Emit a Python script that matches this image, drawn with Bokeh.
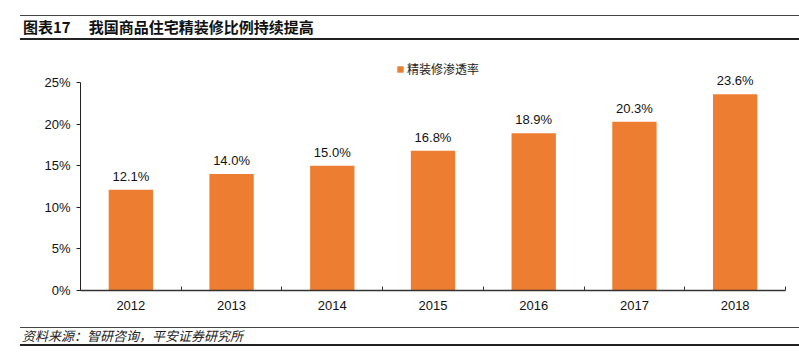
from bokeh.plotting import figure
from bokeh.models import (ColumnDataSource, FixedTicker, LabelSet, Legend, LegendItem,
                          Div, Range1d, PrintfTickFormatter)
from bokeh.core.properties import value
from bokeh.layouts import column
from bokeh.embed import file_html
from bokeh.resources import INLINE

years = ["2012", "2013", "2014", "2015", "2016", "2017", "2018"]
rates = [12.1, 14.0, 15.0, 16.8, 18.9, 20.3, 23.6]
rate_labels = ["12.1%", "14.0%", "15.0%", "16.8%", "18.9%", "20.3%", "23.6%"]
y_ticks = [0, 5, 10, 15, 20, 25]
series_name = "精装修渗透率"
title_head = "图表17"
title_body = "我国商品住宅精装修比例持续提高"
source_text = "资料来源：智研咨询，平安证券研究所"

pos = [i + 0.5 for i in range(len(years))]
src = ColumnDataSource(dict(x=pos, y=rates, lab=rate_labels))

FONT = "Liberation Sans"
CJK = "Noto Sans CJK SC"

p = figure(width=791, height=282, output_backend="svg", toolbar_location=None,
           x_range=Range1d(0, len(years)), y_range=Range1d(0, 27.65),
           min_border_left=80, min_border_right=6, min_border_top=20, min_border_bottom=32,
           margin=0)
p.outline_line_color = None
p.xgrid.grid_line_color = None
p.ygrid.grid_line_color = None

r = p.vbar(x="x", top="y", width=0.44, source=src, fill_color="#ED7D31", line_color=None)

labels = LabelSet(x="x", y="y", text="lab", source=src, text_align="center",
                  text_baseline="bottom", y_offset=6, text_font=value(FONT),
                  text_font_size="13px", text_color="#111111")
p.add_layout(labels)

xa = p.xaxis[0]
xa.ticker = FixedTicker(ticks=pos, minor_ticks=list(range(len(years) + 1)))
xa.major_label_overrides = {v: y for v, y in zip(pos, years)}
xa.major_tick_line_color = None
xa.minor_tick_in = 4
xa.minor_tick_out = 0
xa.minor_tick_line_color = "#333333"
xa.axis_line_color = "#333333"
xa.axis_line_width = 1.5
xa.major_label_standoff = 4
xa.major_label_text_font = FONT
xa.major_label_text_font_size = "13px"
xa.major_label_text_color = "#111111"

ya = p.yaxis[0]
ya.ticker = FixedTicker(ticks=y_ticks)
ya.bounds = (0, 25)
ya.formatter = PrintfTickFormatter(format="%d%%")
ya.major_tick_in = 0
ya.major_tick_out = 4
ya.minor_tick_line_color = None
ya.axis_line_color = "#222222"
ya.major_tick_line_color = "#222222"
ya.major_label_standoff = 6
ya.major_label_text_font = FONT
ya.major_label_text_font_size = "13px"
ya.major_label_text_color = "#111111"

legend = Legend(items=[LegendItem(label=series_name, renderers=[r])],
                location=(316, 213), orientation="horizontal",
                border_line_color=None, background_fill_alpha=0,
                glyph_width=8, glyph_height=8, label_height=14, label_standoff=3,
                padding=0, margin=0, spacing=0,
                label_text_font=CJK, label_text_font_size="12px", label_text_color="#222222")
p.add_layout(legend)

title_html = (
    '<div style="margin:15px 0 0 20px; width:779px; height:25px; box-sizing:border-box; '
    'border-top:1.5px solid #444; border-bottom:2px solid #222; '
    f'font-family:\'{CJK}\'; font-weight:bold; font-size:15px; line-height:21px; '
    'padding-left:3px; color:#111; white-space:nowrap;">'
    f'<span>{title_head}</span><span style="margin-left:18px">{title_body}</span></div>'
)
footer_html = (
    '<div style="margin:5px 0 0 20px; width:779px; height:19px; box-sizing:border-box; '
    'border-top:1.5px solid #444; border-bottom:2px solid #222; '
    f'font-family:\'{CJK}\'; font-style:italic; font-size:13px; line-height:15px; '
    'padding-left:2px; color:#222; white-space:nowrap;">'
    f'{source_text}</div>'
)
title = Div(text=title_html, width=799, height=40, margin=0)
footer = Div(text=footer_html, width=799, height=26, margin=0)

layout = column(title, p, footer, spacing=0)
open("out.html", "w").write(file_html(layout, INLINE))
